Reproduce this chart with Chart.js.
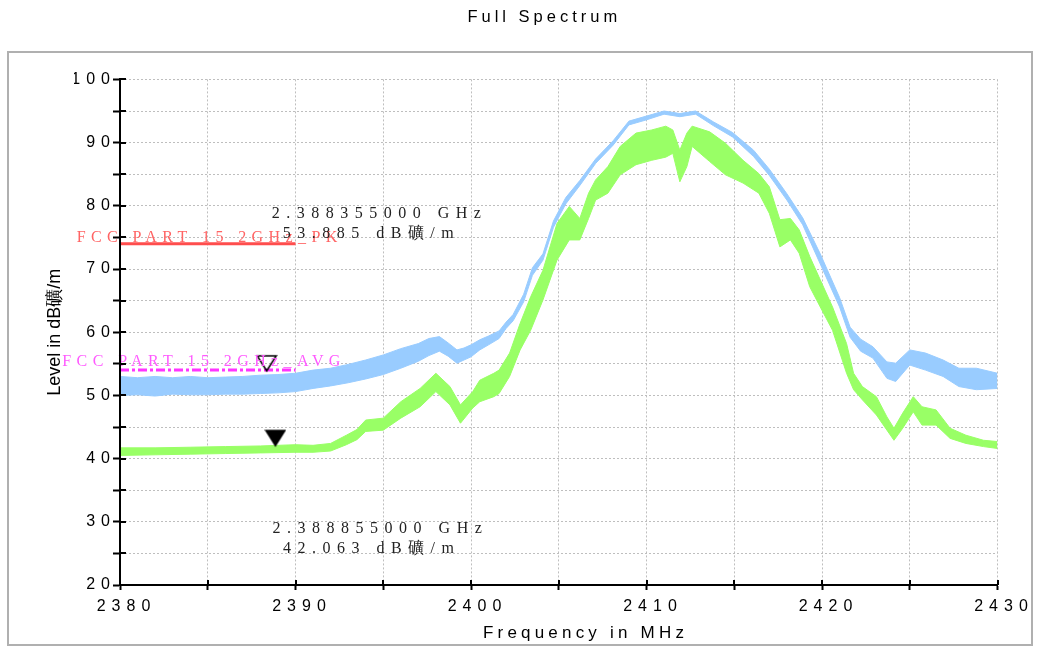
<!DOCTYPE html>
<html><head><meta charset="utf-8">
<script src="https://cdn.jsdelivr.net/npm/chart.js@4/dist/chart.umd.min.js"></script>
<style>html,body{margin:0;padding:0;background:#fff;}canvas{display:block;}</style>
</head><body>
<canvas id="c" width="1037" height="646"></canvas>
<script>
// ---- data ----
const peakFreq = [2380, 2381, 2382, 2383, 2384, 2385, 2386, 2387, 2388, 2389, 2390, 2391, 2392, 2393, 2394, 2395, 2396, 2397, 2397.6, 2398.2, 2398.7, 2399.2, 2399.6, 2400, 2400.5, 2401, 2401.6, 2402, 2402.4, 2403, 2403.5, 2404.1, 2404.7, 2405.4, 2406.2, 2407.1, 2408.1, 2409, 2410, 2411, 2411.9, 2412.8, 2413.8, 2414.9, 2416.1, 2417, 2418, 2418.9, 2419.9, 2421, 2421.6, 2422.2, 2422.9, 2423.7, 2424.2, 2425, 2425.9, 2426.9, 2427.8, 2428.8, 2430];
const peakHi = [53.0, 52.8, 53.0, 52.8, 53.0, 52.8, 52.9, 53.0, 53.2, 53.3, 53.5, 54.0, 54.3, 54.9, 55.6, 56.4, 57.4, 58.2, 59.0, 59.3, 58.3, 57.2, 57.5, 58.0, 58.8, 59.4, 60.2, 61.6, 62.8, 66.0, 70.2, 72.4, 77.6, 81.3, 84.0, 87.4, 90.3, 93.4, 94.2, 95.0, 94.6, 95.0, 93.3, 91.6, 88.8, 85.8, 81.9, 78.1, 72.4, 65.5, 60.8, 58.9, 57.7, 55.3, 55.1, 57.2, 56.7, 55.6, 54.3, 54.3, 53.5];
const peakLo = [50.0, 50.1, 49.9, 50.2, 50.1, 50.1, 50.2, 50.2, 50.3, 50.4, 50.6, 51.1, 51.5, 52.0, 52.6, 53.3, 54.3, 55.4, 56.3, 57.0, 56.2, 55.1, 55.6, 56.1, 57.2, 58.0, 59.0, 60.6, 61.8, 64.8, 69.0, 71.4, 76.6, 80.3, 83.2, 86.7, 89.6, 92.8, 93.6, 94.5, 94.1, 94.5, 92.7, 90.9, 87.8, 84.8, 80.9, 77.0, 70.8, 64.0, 59.2, 57.0, 55.9, 52.7, 52.2, 54.8, 54.0, 53.0, 51.4, 50.9, 51.1];

const avgFreq = [2380, 2382, 2384, 2386, 2388, 2390, 2391, 2392, 2392.9, 2393.5, 2394, 2395, 2396, 2397.1, 2398, 2398.8, 2399.4, 2400.1, 2400.5, 2401.3, 2401.6, 2402.2, 2402.8, 2403.4, 2404.1, 2404.9, 2405.6, 2406.2, 2406.7, 2407.1, 2407.8, 2408.5, 2409.4, 2410.3, 2411.1, 2411.5, 2411.9, 2412.3, 2412.6, 2413.6, 2414.5, 2415.5, 2416.4, 2417, 2417.6, 2418.2, 2418.7, 2419.3, 2419.9, 2420.6, 2421.4, 2421.8, 2422.3, 2423.1, 2423.7, 2424.1, 2424.6, 2425.2, 2425.7, 2426.5, 2427.3, 2428.2, 2429.2, 2430];
const avgHi = [41.7, 41.7, 41.8, 41.9, 42.0, 42.2, 42.1, 42.4, 43.7, 44.6, 46.1, 46.4, 49.0, 51.1, 53.5, 51.4, 48.5, 50.6, 52.4, 53.5, 54.0, 56.7, 61.4, 65.6, 69.8, 77.2, 79.9, 78.0, 82.0, 84.1, 86.2, 89.4, 91.5, 92.0, 92.6, 92.0, 88.8, 91.5, 92.6, 91.7, 89.9, 87.2, 85.1, 83.0, 77.8, 78.0, 76.2, 72.0, 68.3, 64.0, 58.2, 53.5, 51.4, 49.8, 46.6, 44.8, 47.2, 49.8, 48.2, 47.7, 44.8, 43.7, 42.9, 42.7];
const avgLo = [40.5, 40.6, 40.7, 40.8, 40.9, 41.0, 41.0, 41.2, 42.2, 43.0, 44.3, 44.5, 46.4, 48.2, 50.6, 48.5, 45.6, 48.0, 49.0, 49.8, 50.3, 53.0, 57.2, 60.3, 65.1, 71.4, 74.6, 74.6, 78.0, 80.9, 82.0, 84.9, 86.5, 87.2, 87.7, 88.3, 83.8, 86.2, 89.4, 87.0, 84.9, 83.6, 82.0, 78.8, 73.5, 74.6, 72.5, 67.2, 64.0, 60.3, 53.5, 50.9, 49.3, 46.9, 44.5, 42.9, 44.8, 47.4, 45.3, 45.3, 43.2, 42.4, 41.9, 41.6];

const limitFreq = [2380, 2390];
const pkLimit = [74, 74];
const avgLimit = [54, 54];
const pkLimitName = 'FCC PART 15 2GHz_PK';
const avgLimitName = 'FCC PART 15 2GHz_AVG';

const peakMarkerFreq = [2388.355];
const peakMarkerLevel = [53.885];
const avgMarkerFreq = [2388.855];
const avgMarkerLevel = [42.063];

const chartTitle = 'Full Spectrum';
const xTitle = 'Frequency in MHz';
const yTitle = 'Level in dB礦/m';
const unit = 'dB礦/m';

// ---- rendering ----
const FONT = '"Liberation Sans", Arial, sans-serif';
const SERIF = '"Liberation Serif", "Times New Roman", serif';
const BLUE = 'rgb(153,204,255)';
const GREEN = 'rgb(153,255,102)';

const canvas = document.getElementById('c');
const ctx = canvas.getContext('2d');
const nativeFillText = CanvasRenderingContext2D.prototype.fillText;
const SPACING = {'16': '6px', '16.5': '4px', '17': '4.2px', '18': '0px'};
ctx.fillText = function (text, x, y, maxWidth) {
  const m = /(\d+(?:\.\d+)?)px/.exec(this.font);
  this.letterSpacing = (m && SPACING[m[1]]) || '0px';
  return maxWidth === undefined ? nativeFillText.call(this, text, x, y) : nativeFillText.call(this, text, x, y, maxWidth);
};

const pts = (xs, ys) => xs.map((x, i) => ({x, y: ys[i]}));

function makeTri(filled) {
  const c = document.createElement('canvas');
  c.width = 22; c.height = 34;
  const g = c.getContext('2d');
  g.beginPath(); g.moveTo(1.5, 2); g.lineTo(20.5, 2); g.lineTo(11, 17); g.closePath();
  if (filled) { g.fillStyle = '#000'; g.fill(); }
  g.lineWidth = 1.5; g.strokeStyle = '#000'; g.stroke();
  return c;
}

const framePlugin = {
  id: 'frame',
  beforeDraw(chart) {
    const c = chart.ctx;
    c.save();
    c.fillStyle = '#fff'; c.fillRect(0, 0, chart.width, chart.height);
    c.strokeStyle = 'rgb(176,176,176)'; c.lineWidth = 2;
    c.strokeRect(8, 52, 1024, 593);
    c.restore();
  }
};

const innerTicks = {
  id: 'innerTicks',
  afterDraw(chart) {
    const c = chart.ctx, xs = chart.scales.x, ys = chart.scales.y;
    c.save(); c.strokeStyle = '#000'; c.lineWidth = 2; c.beginPath();
    ys.ticks.forEach(t => { const p = Math.round(ys.getPixelForValue(t.value)); c.moveTo(xs.left, p); c.lineTo(xs.left + 6, p); });
    xs.ticks.forEach(t => { const p = Math.round(xs.getPixelForValue(t.value)); c.moveTo(p, ys.bottom); c.lineTo(p, ys.bottom - 5); });
    c.stroke(); c.restore();
  }
};

function spacedText(c, text, x, y, font, color, spacing) {
  c.save();
  c.font = font; c.fillStyle = color; c.textAlign = 'left'; c.textBaseline = 'alphabetic';
  c.letterSpacing = spacing;
  nativeFillText.call(c, text, x, y);
  c.restore();
}

const annotations = {
  id: 'annotations',
  afterDatasetsDraw(chart) {
    const c = chart.ctx, xs = chart.scales.x, ys = chart.scales.y;
    const f = '16px ' + SERIF;
    spacedText(c, pkLimitName, xs.left - 43.3, ys.getPixelForValue(pkLimit[0]) - 1.5, f, 'rgb(255,100,100)', '5.4px');
    spacedText(c, avgLimitName, xs.left - 57.7, ys.getPixelForValue(avgLimit[0]) - 4.4, f, 'rgb(255,90,255)', '5.4px');
    const m1x = xs.getPixelForValue(peakMarkerFreq[0]), m1y = ys.getPixelForValue(peakMarkerLevel[0]);
    spacedText(c, (peakMarkerFreq[0] / 1000).toFixed(9) + ' GHz', m1x + 5, m1y - 152.5, f, '#222', '6.5px');
    spacedText(c, peakMarkerLevel[0].toFixed(3) + ' ' + unit, m1x + 16, m1y - 132.5, f, '#222', '6.5px');
    const m2x = xs.getPixelForValue(avgMarkerFreq[0]), m2y = ys.getPixelForValue(avgMarkerLevel[0]);
    spacedText(c, (avgMarkerFreq[0] / 1000).toFixed(9) + ' GHz', m2x - 2.8, m2y + 87.6, f, '#222', '6.5px');
    spacedText(c, avgMarkerLevel[0].toFixed(3) + ' ' + unit, m2x + 7.5, m2y + 107.6, f, '#222', '6.5px');
  }
};

const tick10 = v => (Math.round(v) % 10 === 0 ? String(Math.round(v)) : '');

new Chart(ctx, {
  type: 'line',
  data: {
    datasets: [
      {label: 'Peak marker', data: pts(peakMarkerFreq, peakMarkerLevel), showLine: false, pointStyle: makeTri(false), pointRadius: 10, order: 0},
      {label: 'Avg marker', data: pts(avgMarkerFreq, avgMarkerLevel), showLine: false, pointStyle: makeTri(true), pointRadius: 10, order: 0},
      {label: pkLimitName, data: pts(limitFreq, pkLimit), borderColor: 'rgb(255,77,77)', borderWidth: 3, pointRadius: 0, fill: false, order: 1},
      {label: avgLimitName, data: pts(limitFreq, avgLimit), borderColor: 'rgb(255,51,255)', borderWidth: 3, borderDash: [9, 3, 3, 3], pointRadius: 0, fill: false, order: 1},
      {label: 'Peak low', data: pts(peakFreq, peakLo), borderColor: BLUE, borderWidth: 1, pointRadius: 0, fill: false, order: 3},
      {label: 'Peak', data: pts(peakFreq, peakHi), borderColor: BLUE, backgroundColor: BLUE, borderWidth: 1, pointRadius: 0, fill: '-1', order: 3},
      {label: 'Average low', data: pts(avgFreq, avgLo), borderColor: GREEN, borderWidth: 1, pointRadius: 0, fill: false, order: 2},
      {label: 'Average', data: pts(avgFreq, avgHi), borderColor: GREEN, backgroundColor: GREEN, borderWidth: 1, pointRadius: 0, fill: '-1', order: 2}
    ]
  },
  options: {
    responsive: false,
    animation: false,
    devicePixelRatio: 1,
    layout: {padding: {left: 74, right: 39.5, top: 0, bottom: 0}},
    elements: {line: {tension: 0}},
    plugins: {
      legend: {display: false},
      tooltip: {enabled: false},
      title: {display: true, text: '  ' + chartTitle, color: '#000', font: {family: FONT, size: 16.5, weight: 'normal'}, padding: {top: 7.4, bottom: 52.2}}
    },
    scales: {
      x: {
        type: 'linear', min: 2380, max: 2430,
        ticks: {stepSize: 5, autoSkip: false, maxRotation: 0, color: '#000', font: {family: FONT, size: 16}, padding: 7, labelOffset: 6.5, callback: tick10},
        grid: {color: 'rgb(190,190,190)', lineWidth: 1, drawTicks: true, tickLength: 5, tickColor: '#000', tickWidth: 2},
        border: {display: true, color: '#000', width: 2, dash: [2, 2], z: 1},
        title: {display: true, text: '      ' + xTitle, color: '#000', font: {family: FONT, size: 17}, padding: {top: 0, bottom: 2}},
        afterFit(s) { s.height = 61; }
      },
      y: {
        min: 20, max: 100,
        ticks: {stepSize: 5, autoSkip: false, color: '#000', font: {family: FONT, size: 16}, padding: -3, callback: tick10},
        grid: {color: 'rgb(190,190,190)', lineWidth: 1, drawTicks: true, tickLength: 7, tickColor: '#000', tickWidth: 2},
        border: {display: true, color: '#000', width: 2, dash: [2, 2], z: 1},
        title: {display: true, text: yTitle, color: '#000', font: {family: FONT, size: 18}, padding: {top: -29.8, bottom: 0}},
        afterFit(s) { s.width = 46; }
      }
    }
  },
  plugins: [framePlugin, innerTicks, annotations]
});
</script>
</body></html>
